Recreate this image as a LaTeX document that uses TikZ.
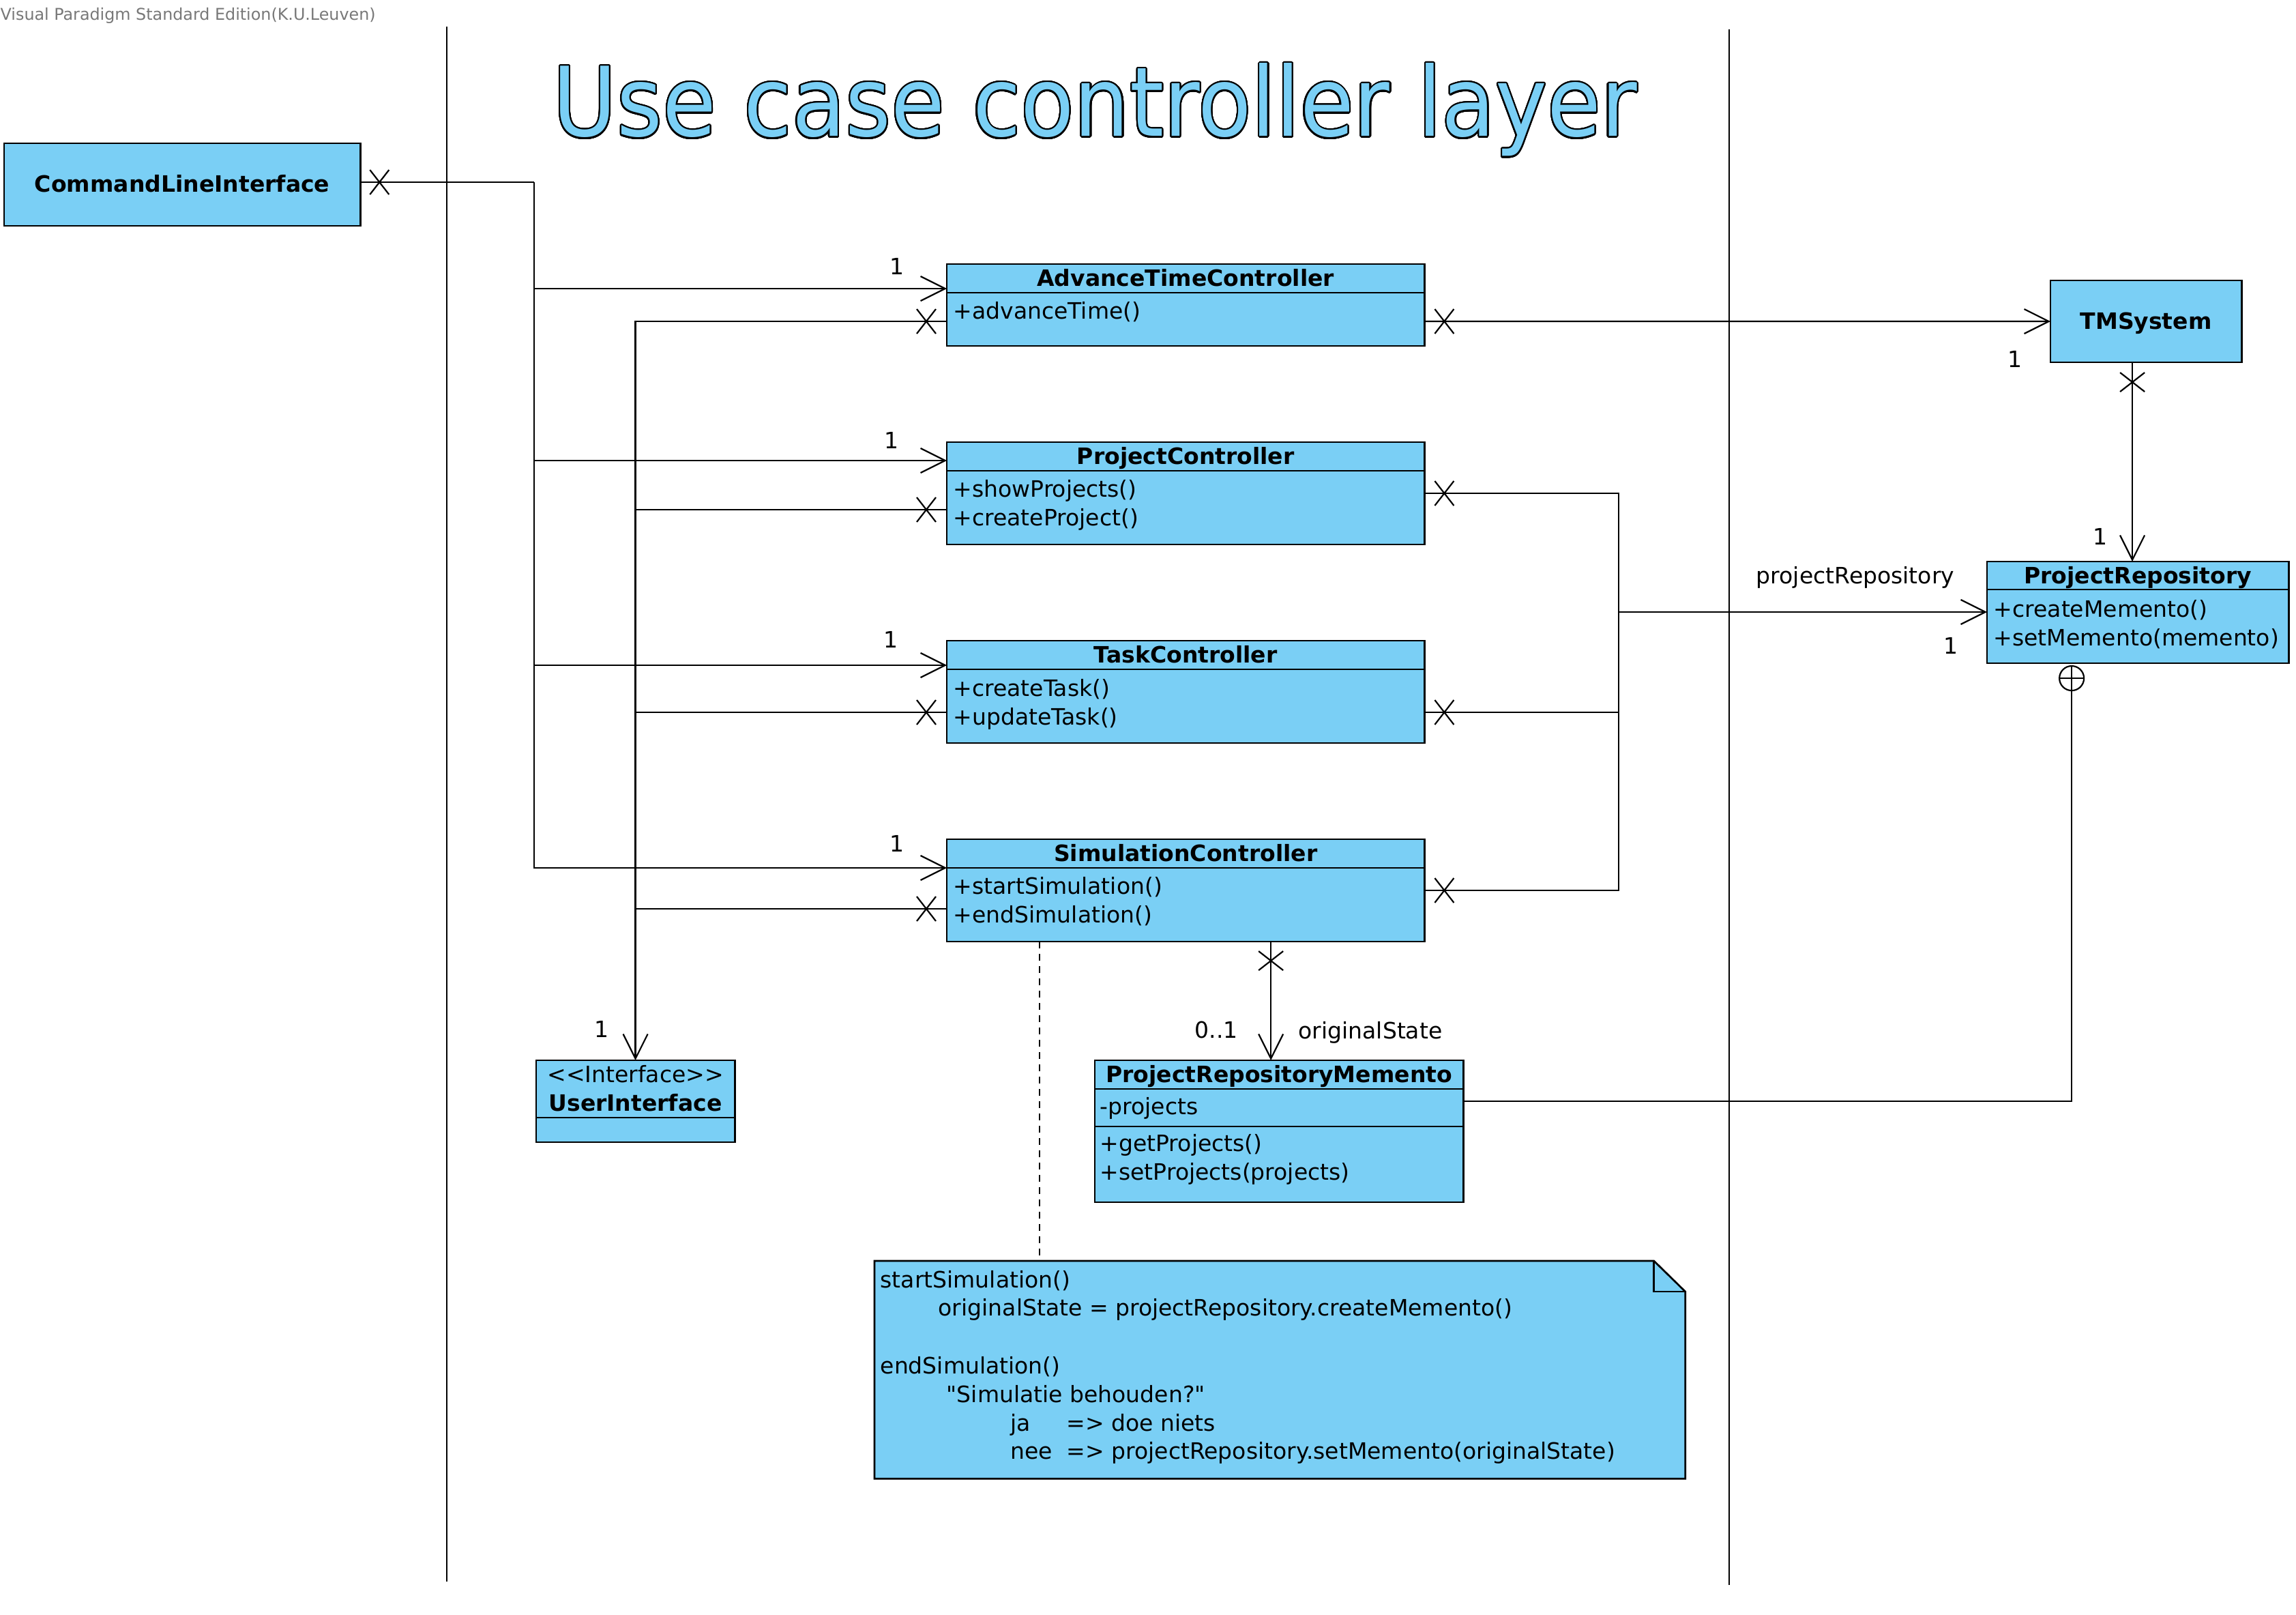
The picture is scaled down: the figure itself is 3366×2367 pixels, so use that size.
\documentclass[tikz,border=0pt]{standalone}
\usepackage{fontspec}
\setmainfont{DejaVu Sans}[Ligatures=TeXOff]
\usepackage{contour}
\usetikzlibrary{arrows.meta,calc}
\definecolor{vpblue}{RGB}{122,207,245}
\definecolor{wmgray}{RGB}{120,120,120}
\newcommand\vpf{\fontsize{9.39pt}{11pt}\selectfont}
\newcommand\wmf{\fontsize{6.77pt}{8pt}\selectfont}
\contourlength{0.022cm}
\contournumber{32}
\begin{document}
\begin{tikzpicture}[x=0.01cm,y=-0.01cm,
  box/.style={draw, fill=vpblue, line width=0.027cm, rectangle, inner sep=0pt, outer sep=0pt, anchor=north west},
  boxline/.style={line width=0.027cm},
  txt/.style={inner sep=0pt, font=\vpf},
  btxt/.style={inner sep=0pt, font=\vpf\bfseries},
  ln/.style={line width=0.022cm},
  arr/.style={ln, -{Straight Barb[length=0.36cm,width=0.36cm]}},
  dashln/.style={ln, dash pattern=on 0.1cm off 0.08cm},
  xh/.pic={\draw[line width=0.022cm] (-14,-18) -- (14,18) (-14,18) -- (14,-18);},
  xv/.pic={\draw[line width=0.022cm] (-18,-14) -- (18,14) (-18,14) -- (18,-14);}
]
\useasboundingbox (0,0) rectangle (3366,2367);
\fill[white] (0,0) rectangle (3366,2367);

% watermark and title
\node[anchor=base west, inner sep=0pt, font=\wmf, text=wmgray] (wm) at (0,30) {Visual Paradigm Standard Edition(K.U.Leuven)};
\node[anchor=base west, inner sep=0pt] (title) at (810,200)
  {\contour{black}{\resizebox{15.88cm}{1.07cm}{\fontsize{40pt}{48pt}\selectfont\textcolor{vpblue}{Use case controller layer}}}};

% swimlane separators
\coordinate (l1t) at (655,39);  \coordinate (l1b) at (655,2318);
\coordinate (l2t) at (2535,43); \coordinate (l2b) at (2535,2323);
\draw[ln] (l1t) -- (l1b);
\draw[ln] (l2t) -- (l2b);

% class boxes
\node[box, minimum width=5.22cm, minimum height=1.21cm] (cli) at (6,210) {};
\node[box, minimum width=7cm, minimum height=1.2cm] (atc) at (1388,387) {};
\node[box, minimum width=7cm, minimum height=1.5cm] (pc) at (1388,648) {};
\node[box, minimum width=7cm, minimum height=1.5cm] (tc) at (1388,939) {};
\node[box, minimum width=7cm, minimum height=1.5cm] (sc) at (1388,1230) {};
\node[box, minimum width=2.8cm, minimum height=1.2cm] (tms) at (3006,411) {};
\node[box, minimum width=4.42cm, minimum height=1.49cm] (pr) at (2913,823) {};
\node[box, minimum width=2.91cm, minimum height=1.2cm] (ui) at (786,1554) {};
\node[box, minimum width=5.4cm, minimum height=2.08cm] (mem) at (1605,1554) {};

% compartments
\foreach \c in {atc,pc,tc,sc,mem}
  \draw[boxline] ($(\c.north west)+(0,42)$) -- ($(\c.north east)+(0,42)$);
\draw[boxline] ($(pr.north west)+(0,41)$) -- ($(pr.north east)+(0,41)$);
\draw[boxline] ($(mem.north west)+(0,97)$) -- ($(mem.north east)+(0,97)$);
\draw[boxline] ($(ui.north west)+(0,84)$) -- ($(ui.north east)+(0,84)$);

% class texts
\node[btxt, anchor=base] (cliN) at ($(cli.north)+(0,72)$) {CommandLineInterface};
\node[btxt, anchor=base] (tmsN) at ($(tms.north)+(0,72)$) {TMSystem};

\node[btxt, anchor=base] (atcN) at ($(atc.north)+(0,33)$) {AdvanceTimeController};
\node[txt, anchor=base west] (atcM1) at ($(atc.north west)+(9,81)$) {+advanceTime()};

\node[btxt, anchor=base] (pcN) at ($(pc.north)+(0,32)$) {ProjectController};
\node[txt, anchor=base west] (pcM1) at ($(pc.north west)+(9,80)$) {+showProjects()};
\node[txt, anchor=base west] (pcM2) at ($(pc.north west)+(9,122)$) {+createProject()};

\node[btxt, anchor=base] (tcN) at ($(tc.north)+(0,32)$) {TaskController};
\node[txt, anchor=base west] (tcM1) at ($(tc.north west)+(9,81)$) {+createTask()};
\node[txt, anchor=base west] (tcM2) at ($(tc.north west)+(9,123)$) {+updateTask()};

\node[btxt, anchor=base] (scN) at ($(sc.north)+(0,32)$) {SimulationController};
\node[txt, anchor=base west] (scM1) at ($(sc.north west)+(9,80)$) {+startSimulation()};
\node[txt, anchor=base west] (scM2) at ($(sc.north west)+(9,122)$) {+endSimulation()};

\node[btxt, anchor=base] (prN) at ($(pr.north)+(0,32)$) {ProjectRepository};
\node[txt, anchor=base west] (prM1) at ($(pr.north west)+(9,81)$) {+createMemento()};
\node[txt, anchor=base west] (prM2) at ($(pr.north west)+(9,123)$) {+setMemento(memento)};

\node[txt, anchor=base] (uiS) at ($(ui.north)+(0,32)$) {<\kern0pt<Interface>\kern0pt>};
\node[btxt, anchor=base] (uiN) at ($(ui.north)+(0,74)$) {UserInterface};

\node[btxt, anchor=base] (memN) at ($(mem.north)+(0,32)$) {ProjectRepositoryMemento};
\node[txt, anchor=base west] (memA1) at ($(mem.north west)+(7,79)$) {-projects};
\node[txt, anchor=base west] (memM1) at ($(mem.north west)+(7,133)$) {+getProjects()};
\node[txt, anchor=base west] (memM2) at ($(mem.north west)+(7,175)$) {+setProjects(projects)};

% CommandLineInterface -> controllers (shared bus)
\coordinate (cliOut) at ($(cli.east)+(0,-3.5)$);
\coordinate (cliBus) at ($(cliOut)+(255,0)$);
\draw[ln] (cliOut) -- (cliBus);
\draw[arr] (cliBus) |- ($(atc.north west)+(0,36)$);
\draw[arr] (cliBus |- pc.north) ++(0,27) -- ($(pc.north west)+(0,27)$);
\draw[arr] (cliBus |- tc.north) ++(0,36) -- ($(tc.north west)+(0,36)$);
\draw[arr] (cliBus) |- ($(sc.north west)+(0,42)$);
\path ($(cliOut)+(28,0)$) pic {xh};
\node[txt] (m1) at (1315,390) {1};
\node[txt] (m2) at (1307,645) {1};
\node[txt] (m3) at (1306,937) {1};
\node[txt] (m4) at (1315,1236) {1};

% controllers -> UserInterface (shared bus)
\coordinate (atcU) at ($(atc.north west)+(0,84)$);
\coordinate (pcU) at ($(pc.north west)+(0,99)$);
\coordinate (tcU) at ($(tc.north west)+(0,105)$);
\coordinate (scU) at ($(sc.north west)+(0,102)$);
\draw[arr] (atcU) -| (ui.north);
\draw[ln] (pcU) -- (pcU -| ui.north);
\draw[ln] (tcU) -- (tcU -| ui.north);
\draw[ln] (scU) -- (scU -| ui.north);
\path ($(atcU)+(-30,0)$) pic {xh};
\path ($(pcU)+(-30,0)$) pic {xh};
\path ($(tcU)+(-30,0)$) pic {xh};
\path ($(scU)+(-30,0)$) pic {xh};
\node[txt] (m5) at (882,1508) {1};

% controllers -> ProjectRepository (shared bus)
\coordinate (pcR) at ($(pc.north east)+(0,75)$);
\coordinate (tcR) at ($(tc.north east)+(0,105)$);
\coordinate (scR) at ($(sc.north east)+(0,75)$);
\coordinate (rBus) at ($(pr.north west)+(-540,74)$);
\draw[ln] (pcR) -| (rBus);
\draw[ln] (scR) -| (rBus);
\draw[ln] (tcR) -- (tcR -| rBus);
\draw[arr] (rBus) -- ($(pr.north west)+(0,74)$);
\path ($(pcR)+(29,0)$) pic {xh};
\path ($(tcR)+(29,0)$) pic {xh};
\path ($(scR)+(29,0)$) pic {xh};
\node[txt, anchor=base] (prRole) at (2720,855) {projectRepository};
\node[txt] (m6) at (2860,946) {1};

% AdvanceTimeController -> TMSystem
\draw[arr] ($(atc.north east)+(0,84)$) -- (tms.west);
\path ($(atc.north east)+(29,84)$) pic {xh};
\node[txt] (m7) at (2954,526) {1};

% TMSystem -> ProjectRepository
\draw[arr] ($(tms.south)+(-20,0)$) -- ($(tms.south |- pr.north)+(-20,0)$);
\path ($(tms.south)+(-20,29)$) pic {xv};
\node[txt] (m8) at (3079,786) {1};

% SimulationController -> ProjectRepositoryMemento
\draw[arr] ($(mem.north |- sc.south)+(-12,0)$) -- ($(mem.north)+(-12,0)$);
\path ($(mem.north |- sc.south)+(-12,28)$) pic {xv};
\node[txt] (m9) at (1783,1509) {0..1};
\node[txt, anchor=base] (origRole) at (2009,1522) {originalState};

% nesting ProjectRepositoryMemento in ProjectRepository
\node[circle, draw, fill=white, line width=0.022cm, minimum size=0.36cm, inner sep=0pt, outer sep=0pt] (nest) at ($(pr.south)+(-97,22)$) {};
\draw[ln] (nest.north) -- (nest.south) (nest.west) -- (nest.east);
\draw[ln] ($(mem.north east)+(0,60)$) -| (nest.south);

% note
\node[inner sep=0pt, outer sep=0pt, minimum width=11.88cm, minimum height=3.19cm, anchor=north west] (note) at (1282,1848) {};
\filldraw[fill=vpblue, line width=0.027cm] (note.north west) -- ($(note.north east)+(-46,0)$) -- ($(note.north east)+(0,45)$) -- (note.south east) -- (note.south west) -- cycle;
\draw[line width=0.027cm] ($(note.north east)+(-46,0)$) -- ($(note.north east)+(-46,45)$) -- ($(note.north east)+(0,45)$);
\node[txt, anchor=base west] (n1) at (1290,1887) {startSimulation()};
\node[txt, anchor=base west] (n2) at (1375,1928) {originalState = projectRepository.createMemento()};
\node[txt, anchor=base west] (n3) at (1290,2013) {endSimulation()};
\node[txt, anchor=base west] (n4) at (1387,2055) {"Simulatie behouden?"};
\node[txt, anchor=base west] (n5) at (1481,2097) {ja};
\node[txt, anchor=base west] (n5b) at (1563,2097) {=> doe niets};
\node[txt, anchor=base west] (n6) at (1481,2138) {nee};
\node[txt, anchor=base west] (n6b) at (1563,2138) {=> projectRepository.setMemento(originalState)};

% note anchor line
\draw[dashln] ($(sc.south)+(-214,0)$) -- ($(sc.south |- note.north)+(-214,0)$);
\end{tikzpicture}
\end{document}
